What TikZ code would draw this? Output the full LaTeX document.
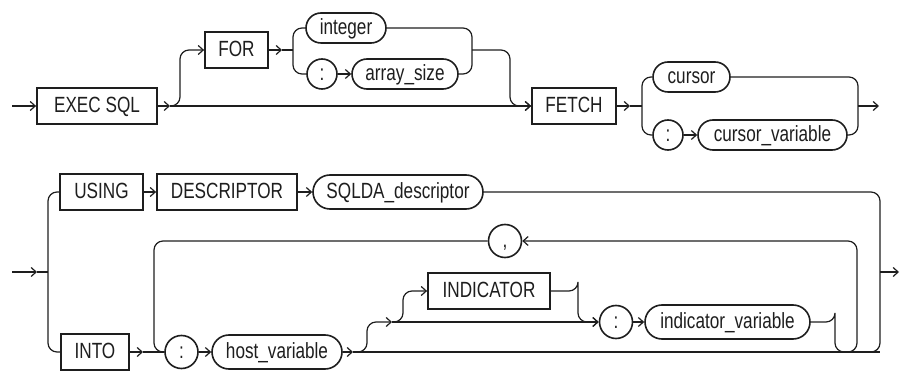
\documentclass[tikz,border=0pt]{standalone}
\usepackage{fontspec}
\setmainfont{Liberation Sans}[FakeStretch=0.78]
\usetikzlibrary{arrows.meta}
\definecolor{ink}{RGB}{30,30,30}
\tikzset{
  lbl/.style={font=\fontsize{22pt}{26pt}\selectfont, text=ink, text height=15.7pt, text depth=3pt, inner sep=0pt, fill=white},
  kw/.style={lbl, draw=ink, line width=1.8pt, rectangle, minimum height=36pt},
  vr/.style={lbl, draw=ink, line width=1.6pt, rectangle, rounded corners=15pt, minimum height=30pt},
  vrb/.style={lbl, draw=ink, line width=1.6pt, rectangle, rounded corners=17pt, minimum height=34pt},
  sym/.style={lbl, draw=ink, line width=1.6pt, circle, minimum size=30pt},
  symb/.style={lbl, draw=ink, line width=1.6pt, circle, minimum size=33pt},
  ln/.style={draw=ink, line width=1.2pt},
  arr/.style={ln, -{Straight Barb[length=5pt,width=9pt]}},
  rc/.style={rounded corners=9pt}
}
\begin{document}
\begin{tikzpicture}[x=1pt,y=-1pt]
\useasboundingbox (0,0) rectangle (900,371);
% ---------- row 1 ----------
\node[kw,minimum width=120pt] (exec) at (97,106) {EXEC SQL};
\node[kw,minimum width=63pt] (for) at (236.5,50) {FOR};
\node[vr,minimum width=80pt] (int) at (346,28) {integer};
\node[sym] (c1) at (322,74) {:};
\node[vr,minimum width=106pt] (asz) at (405,74) {array\_size};
\node[kw,minimum width=84pt] (fetch) at (574,106) {FETCH};
\node[vr,minimum width=77pt] (cur) at (691.5,77) {cursor};
\node[sym] (c2) at (668,135) {:};
\node[vr,minimum width=149pt] (curv) at (772.5,135) {cursor\_variable};

\coordinate (s1) at (12,106);
\coordinate (a1) at (170,106);
\coordinate (b1) at (180,106);
\coordinate (a2) at (282,50);
\coordinate (v1) at (293,50);
\coordinate (v2) at (472,50);
\coordinate (m1) at (510,50);
\coordinate (a3) at (630,106);
\coordinate (v3) at (642,106);
\coordinate (v4) at (858,106);
\coordinate (e1) at (879,106);

\draw[arr] (s1) -- (exec.west);
\draw[arr] (exec.east) -- (a1);
\draw[arr] (a1) -- (fetch.west);
\draw[arr,rc] (a1) -- (b1) |- (for.west);
\draw[arr] (for.east) -- (a2);
\draw[ln] (a2) -- (v1);
\draw[ln,rc] (int.west) -| (v1) |- (c1.west);
\draw[arr] (c1.east) -- (asz.west);
\draw[ln,rc] (int.east) -| (v2) |- (asz.east);
\draw[arr,rc] (v2) -- (m1) |- (fetch.west);
\draw[arr] (fetch.east) -- (a3);
\draw[ln] (a3) -- (v3);
\draw[ln,rc] (cur.west) -| (v3) |- (c2.west);
\draw[arr] (c2.east) -- (curv.west);
\draw[ln,rc] (cur.east) -| (v4) |- (curv.east);
\draw[arr] (v4) -- (e1);

% ---------- row 2 ----------
\node[kw,minimum width=83pt] (using) at (101.5,192) {USING};
\node[kw,minimum width=140pt] (desc) at (227,192) {DESCRIPTOR};
\node[vrb,minimum width=170pt] (sqlda) at (398,192) {SQLDA\_descriptor};
\node[kw,minimum width=68pt] (into) at (95,352) {INTO};
\node[symb] (c3) at (181.5,352) {:};
\node[vrb,minimum width=130pt] (hv) at (277,352) {host\_variable};
\node[symb] (comma) at (505,241) {,};
\node[kw,minimum width=122pt] (ind) at (489,291) {INDICATOR};
\node[symb] (c4) at (616,322) {:};
\node[vrb,minimum width=165pt] (iv) at (727.5,322) {indicator\_variable};

\coordinate (s2) at (12,272);
\coordinate (a4) at (37,272);
\coordinate (v5) at (48,272);
\coordinate (v6) at (880,272);
\coordinate (e2) at (899,272);
\coordinate (a5) at (143,352);
\coordinate (l1) at (154,241);
\coordinate (a6) at (353,352);
\coordinate (b2) at (367,352);
\coordinate (a7) at (392,322);
\coordinate (b3) at (403,322);
\coordinate (b4) at (578,291);
\coordinate (u1) at (835,322);
\coordinate (u3) at (850,352);
\coordinate (u4) at (840,352);
\coordinate (u2) at (857,241);
\coordinate (bot) at (880,352);
\coordinate (bot2) at (860,352);

\draw[arr] (s2) -- (a4);
\draw[ln] (a4) -- (v5);
\draw[ln,rc] (using.west) -| (v5) |- (into.west);
\draw[arr] (using.east) -- (desc.west);
\draw[arr] (desc.east) -- (sqlda.west);
\draw[ln,rc] (sqlda.east) -| (bot) -- (bot2);
\draw[arr] (v6) -- (e2);
\draw[arr] (into.east) -- (a5);
\draw[ln] (a5) -- (c3.west);
\draw[ln,rc] (comma.west) -- (l1) |- (c3.west);
\draw[arr] (c3.east) -- (hv.west);
\draw[arr] (hv.east) -- (a6);
\draw[ln] (a6) -- (bot);
\draw[arr,rc] (a6) -- (b2) |- (a7);
\draw[arr] (a7) -- (c4.west);
\draw[arr,rc] (a7) -- (b3) |- (ind.west);
\draw[arr,rc] (ind.east) -| (b4) |- (c4.west);
\draw[arr] (c4.east) -- (iv.west);
\draw[ln,rc] (iv.east) -| (u1) |- (u3);
\draw[arr,rc] (u4) -| (u2) -- (comma.east);
\end{tikzpicture}
\end{document}
